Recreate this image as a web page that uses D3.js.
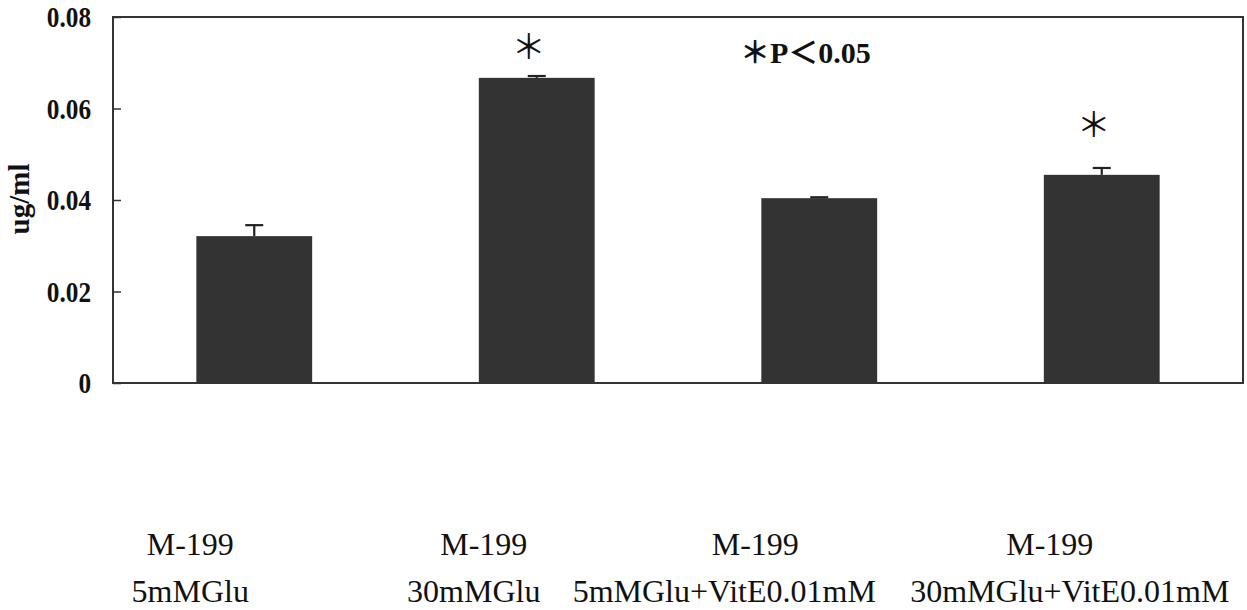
<!DOCTYPE html>
<html>
<head>
<meta charset="utf-8">
<script src="https://cdn.jsdelivr.net/npm/d3@7"></script>
<style>
body { margin: 0; background: #fff; }
text { font-family: "Liberation Serif", "Times New Roman", "Noto Sans CJK JP", serif; fill: #111; }
</style>
</head>
<body>
<div id="chart"></div>
<script>
"use strict";
var w = 1247;
var h = 610;

// data
var categories = ["A", "B", "C", "D"];
var line1 = ["M-199", "M-199", "M-199", "M-199"];
var line2 = ["5mMGlu", "30mMGlu", "5mMGlu+VitE0.01mM", "30mMGlu+VitE0.01mM"];
var values = [0.0321, 0.0667, 0.0404, 0.0455];
var errors = [0.0024, 0.0004, 0.0002, 0.0015];
var signif = [false, true, false, true];
var yTicks = [0, 0.02, 0.04, 0.06, 0.08];
var yTickLabels = ["0", "0.02", "0.04", "0.06", "0.08"];

// label placement (layout only)
var line1Dx = [-64, -53, -64, -52];
var line2Dx = [-64, -63, -95, -32];
var starGap = [0, 29, 0, 43];

var margin = {left: 113, right: 4, top: 17, bottom: 227};

function init() {
    draw();
}
window.onload = init;

function draw() {
    var svg = d3.select("#chart")
        .append("svg")
        .attr("width", w)
        .attr("height", h);

    var x = d3.scaleBand()
        .domain(categories)
        .range([margin.left, w - margin.right])
        .paddingInner(0.59)
        .paddingOuter(0.295);

    var y = d3.scaleLinear()
        .domain([0, 0.08])
        .range([h - margin.bottom, margin.top]);

    var rows = categories.map(function(c, i) {
        return {cat: c, v: values[i], e: errors[i], sig: signif[i], l1: line1[i], l2: line2[i], i: i};
    });

    // bars
    svg.selectAll(".bar")
        .data(rows)
        .enter()
        .append("rect")
        .attr("class", "bar")
        .attr("x", function(d) { return x(d.cat); })
        .attr("y", function(d) { return y(d.v); })
        .attr("width", x.bandwidth())
        .attr("height", function(d) { return y(0) - y(d.v); })
        .attr("fill", "#333");

    // error bars
    var eb = svg.selectAll(".err")
        .data(rows)
        .enter()
        .append("g")
        .attr("class", "err")
        .attr("stroke", "#222")
        .attr("stroke-width", 2.2);
    eb.append("line")
        .attr("x1", function(d) { return x(d.cat) + x.bandwidth() / 2; })
        .attr("x2", function(d) { return x(d.cat) + x.bandwidth() / 2; })
        .attr("y1", function(d) { return y(d.v); })
        .attr("y2", function(d) { return y(d.v + d.e); });
    eb.append("line")
        .attr("x1", function(d) { return x(d.cat) + x.bandwidth() / 2 - 9; })
        .attr("x2", function(d) { return x(d.cat) + x.bandwidth() / 2 + 9; })
        .attr("y1", function(d) { return y(d.v + d.e); })
        .attr("y2", function(d) { return y(d.v + d.e); });

    // frame
    svg.append("rect")
        .attr("x", margin.left)
        .attr("y", margin.top)
        .attr("width", w - margin.right - margin.left)
        .attr("height", y(0) - margin.top)
        .attr("fill", "none")
        .attr("stroke", "#333")
        .attr("stroke-width", 2);

    // y axis, ticks inward
    var yAxis = d3.axisRight(y)
        .tickValues(yTicks)
        .tickSize(8)
        .tickFormat("");
    svg.append("g")
        .attr("transform", "translate(" + margin.left + ",0)")
        .call(yAxis)
        .call(function(g) {
            g.select(".domain").remove();
            g.selectAll("line").attr("stroke", "#333").attr("stroke-width", 1.5);
        });

    // tick labels, a bit condensed like the scan
    svg.selectAll(".ylab")
        .data(yTicks)
        .enter()
        .append("text")
        .attr("class", "ylab")
        .attr("transform", function(d) { return "translate(91," + y(d) + ") scale(0.87,1)"; })
        .attr("dy", "0.35em")
        .attr("text-anchor", "end")
        .style("font-size", "29px")
        .style("font-weight", "bold")
        .text(function(d, i) { return yTickLabels[i]; });

    svg.append("text")
        .attr("transform", "translate(29,199) rotate(-90)")
        .attr("text-anchor", "middle")
        .style("font-size", "29px")
        .style("font-weight", "bold")
        .text("ug/ml");

    // significance marks
    svg.selectAll(".star")
        .data(rows.filter(function(d) { return d.sig; }))
        .enter()
        .append("text")
        .attr("class", "star")
        .attr("x", function(d) { return x(d.cat) + x.bandwidth() / 2 - 8; })
        .attr("y", function(d) { return y(d.v + d.e) - starGap[d.i]; })
        .attr("dy", "0.35em")
        .attr("text-anchor", "middle")
        .style("font-size", "34px")
        .text("\uff0a");

    svg.append("text")
        .attr("x", 740)
        .attr("y", 63)
        .style("font-size", "30px")
        .style("font-weight", "bold")
        .text("\uff0aP\uff1c0.05");

    // category labels
    svg.selectAll(".cl1")
        .data(rows)
        .enter()
        .append("text")
        .attr("class", "cl1")
        .attr("x", function(d) { return x(d.cat) + x.bandwidth() / 2 + line1Dx[d.i]; })
        .attr("y", 555)
        .attr("text-anchor", "middle")
        .style("font-size", "32px")
        .text(function(d) { return d.l1; });

    svg.selectAll(".cl2")
        .data(rows)
        .enter()
        .append("text")
        .attr("class", "cl2")
        .attr("x", function(d) { return x(d.cat) + x.bandwidth() / 2 + line2Dx[d.i]; })
        .attr("y", 602)
        .attr("text-anchor", "middle")
        .style("font-size", "32px")
        .text(function(d) { return d.l2; });
}
</script>
</body>
</html>
